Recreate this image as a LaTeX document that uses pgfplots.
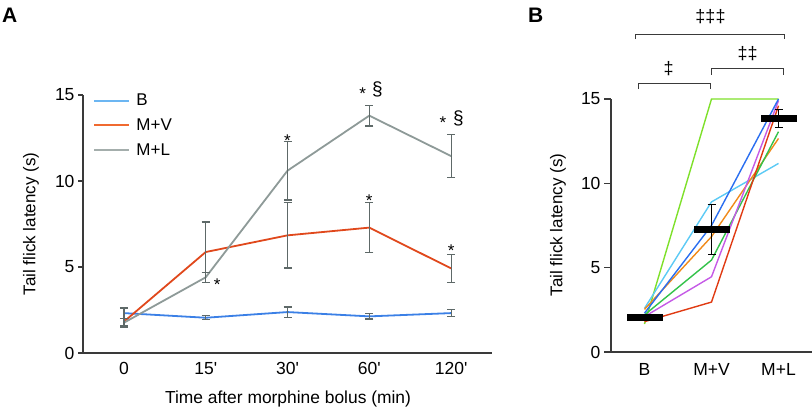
\documentclass[border=0pt]{standalone}
\usepackage{fontspec}
\setmainfont{Liberation Sans}
\usepackage{pgfplots}
\pgfplotsset{compat=1.18}
\definecolor{cB}{HTML}{3B80E6}
\definecolor{cV}{HTML}{E0481C}
\definecolor{cL}{HTML}{8E9A98}
\definecolor{lB}{HTML}{6CB6F2}
\definecolor{lV}{HTML}{F06A30}
\definecolor{lL}{HTML}{A4AEAC}
\definecolor{errg}{HTML}{5E6968}
\definecolor{axg}{HTML}{3A3A3A}
\definecolor{gLime}{HTML}{7EE02A}
\definecolor{gSky}{HTML}{5CCAF5}
\definecolor{gBlue}{HTML}{2A6EF0}
\definecolor{gOrange}{HTML}{F08A1A}
\definecolor{gGreen}{HTML}{33C24A}
\definecolor{gMag}{HTML}{C55AE6}
\definecolor{gRed}{HTML}{E03A12}

\pgfplotstableread{
x y e
0 2.32 0.30
1 2.05 0.12
2 2.38 0.30
3 2.13 0.15
4 2.32 0.20
}\tabB
\pgfplotstableread{
x y e
0 1.82 0.20
1 5.87 1.75
2 6.84 1.90
3 7.29 1.45
4 4.92 0.80
}\tabV
\pgfplotstableread{
x y e
0 1.76 0.25
1 4.40 0.30
2 10.60 1.70
3 13.80 0.60
4 11.45 1.25
}\tabL
\pgfplotstableread{
x y e
0 2.07 0.12
1 7.27 1.48
2 13.85 0.55
}\tabMean

\begin{document}
\begin{tikzpicture}
\path[use as bounding box] (0pt,0pt) rectangle (812pt,-407pt);
\pgfplotsset{
  myaxis/.style={
    scale only axis, clip=false,
    ymin=0, ymax=15, ytick={0,5,10,15},
    axis x line*=bottom, axis y line*=left,
    x axis line style={-}, y axis line style={-},
    axis line style={line width=1.3pt, color=axg},
    tick align=outside,
    x tick style={draw=none},
    y tick style={line width=1.1pt, color=axg},
    /pgf/number format/assume math mode=true,
    tick label style={font=\fontsize{17.5}{20}\selectfont},
    xticklabel style={yshift=-1pt},
  },
  errstyle/.style={
    error bars/.cd, y dir=both, y explicit,
    error bar style={color=errg, line width=1.2pt},
    error mark options={rotate=90, mark size=4pt, color=errg, line width=1.2pt},
  },
}
\begin{axis}[myaxis,
  at={(83pt,-353pt)}, anchor=south west,
  width=409pt, height=258pt,
  xmin=-0.5, xmax=4.5,
  xtick={0,1,2,3,4},
  xticklabels={0,15\textquotesingle,30\textquotesingle,60\textquotesingle,120\textquotesingle},
  major tick length=5pt,
  legend style={at={(0.025,1.012)}, anchor=north west, draw=none, fill=none,
    font=\fontsize{17}{19}\selectfont, row sep=7.5pt, inner sep=0pt,
    nodes={inner xsep=6pt}},
  legend cell align=left,
  legend image code/.code={\draw[#1] (0pt,0pt) -- (35pt,0pt);},
]
\addlegendimage{color=lB, line width=2pt}
\addlegendentry{B}
\addlegendimage{color=lV, line width=2pt}
\addlegendentry{M+V}
\addlegendimage{color=lL, line width=2pt}
\addlegendentry{M+L}
\addplot[color=cB, line width=1.8pt, forget plot, errstyle] table[x=x, y=y, y error=e] {\tabB};
\addplot[color=cV, line width=1.8pt, forget plot, errstyle] table[x=x, y=y, y error=e] {\tabV};
\addplot[color=cL, line width=1.8pt, forget plot, errstyle] table[x=x, y=y, y error=e] {\tabL};
\begin{scope}[every node/.style={font=\fontsize{17}{19}\selectfont, inner sep=0pt}]
\node at (axis cs:1.14,4.0) {*};
\node at (axis cs:2.0,12.35) {*};
\node at (axis cs:2.92,15.05) {*};
\node at (axis cs:3.9,13.4) {*};
\node at (axis cs:3.0,8.85) {*};
\node at (axis cs:4.0,5.97) {*};
\end{scope}
\begin{scope}[every node/.style={font=\fontsize{19}{21}\selectfont, inner sep=0pt}]
\node at (axis cs:3.10,15.3) {§};
\node at (axis cs:4.09,13.65) {§};
\end{scope}
\end{axis}

\begin{axis}[myaxis,
  at={(611pt,-352pt)}, anchor=south west,
  width=201pt, height=253pt,
  xmin=-0.5, xmax=2.5,
  xtick={0,1,2}, xticklabels={B,M+V,M+L},
  major tick length=7pt,
]
\addplot[color=gLime, line width=1.4pt] coordinates {(0,1.66) (1,15) (2,15)};
\addplot[color=gSky, line width=1.4pt] coordinates {(0,2.59) (1,8.9) (2,11.18)};
\addplot[color=gOrange, line width=1.4pt] coordinates {(0,2.53) (1,6.84) (2,12.66)};
\addplot[color=gGreen, line width=1.4pt] coordinates {(0,2.2) (1,5.45) (2,13.06)};
\addplot[color=gMag, line width=1.4pt] coordinates {(0,2.1) (1,4.46) (2,14.9)};
\addplot[color=gRed, line width=1.4pt] coordinates {(0,1.8) (1,2.96) (2,14.6)};
\addplot[color=gBlue, line width=1.4pt] coordinates {(0,2.3) (1,7.5) (2,15)};
\addplot[only marks, mark=-, mark size=18pt, mark options={line width=7pt, color=black},
  error bars/.cd, y dir=both, y explicit,
  error bar style={color=black, line width=1pt},
  error mark options={rotate=90, mark size=4pt, color=black, line width=1pt}]
  table[x=x, y=y, y error=e] {\tabMean};
\begin{scope}[color=axg, line width=1pt]
\draw (axis cs:-0.13,18.55) -- (axis cs:-0.13,18.8) -- (axis cs:2.09,18.8) -- (axis cs:2.09,18.55);
\draw (axis cs:-0.09,15.59) -- (axis cs:-0.09,15.89) -- (axis cs:0.985,15.89) -- (axis cs:0.985,15.59);
\draw (axis cs:1.0,16.43) -- (axis cs:1.0,16.78) -- (axis cs:2.07,16.78) -- (axis cs:2.07,16.43);
\end{scope}
\begin{scope}[every node/.style={font=\fontsize{18}{20}\selectfont, inner sep=0pt}]
\node at (axis cs:0.985,19.86) {‡‡‡};
\node at (axis cs:0.36,16.83) {‡};
\node at (axis cs:1.54,17.72) {‡‡};
\end{scope}
\end{axis}

\node[rotate=90, font=\fontsize{17}{19}\selectfont] at (31pt,-224pt) {Tail flick latency (s)};
\node[rotate=90, font=\fontsize{17}{19}\selectfont] at (558pt,-225pt) {Tail flick latency (s)};
\node[anchor=base, font=\fontsize{17.4}{19}\selectfont] at (288pt,-403pt) {Time after morphine bolus (min)};
\node[anchor=base west, inner sep=0pt, font=\bfseries\fontsize{21}{24}\selectfont] at (2pt,-22pt) {A};
\node[anchor=base west, inner sep=0pt, font=\bfseries\fontsize{21}{24}\selectfont] at (528pt,-22pt) {B};
\end{tikzpicture}
\end{document}
